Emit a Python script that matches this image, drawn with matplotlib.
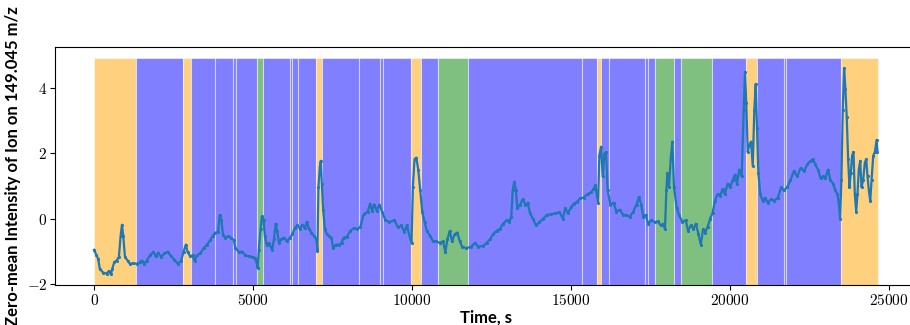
import matplotlib

matplotlib.use("Agg")
import matplotlib.pyplot as plt
from matplotlib.ticker import FuncFormatter

# segment boundaries (s) and their class colour
seg_start = [0, 1305, 2792, 3034, 3814, 4372, 4466, 5130, 5320, 6152, 6237, 6406,
             6995, 7175, 8344, 8998, 9103, 9978, 10282, 10819, 11779, 15351, 15825,
             15951, 16192, 17330, 17415, 17636, 18246, 18458, 19428, 20512, 20860,
             21703, 21776, 23505]
seg_end = [1305, 2792, 3034, 3814, 4372, 4466, 5130, 5320, 6152, 6237, 6406, 6995,
           7175, 8344, 8998, 9103, 9978, 10282, 10819, 11779, 15351, 15825, 15951,
           16192, 17330, 17415, 17636, 18246, 18458, 19428, 20512, 20860, 21703,
           21776, 23505, 24652]
seg_color = ["orange", "blue", "orange", "blue", "blue", "blue", "blue", "green",
             "blue", "blue", "blue", "blue", "orange", "blue", "blue", "blue", "blue",
             "orange", "blue", "green", "blue", "blue", "orange", "blue", "blue",
             "blue", "blue", "green", "blue", "green", "blue", "orange", "blue",
             "blue", "blue", "orange"]
band_low = -2.04
band_high = 4.91

# zero-mean intensity trace
time_s = [0, 73, 126, 180, 285, 390, 464, 527, 569, 632, 706, 780, 832, 875, 917,
          970, 1052, 1128, 1233, 1337, 1444, 1495, 1580, 1653, 1760, 1865, 1937,
          2023, 2107, 2212, 2317, 2423, 2528, 2633, 2740, 2813, 2886, 2939, 3025,
          3097, 3161, 3233, 3340, 3445, 3550, 3657, 3729, 3815, 3897, 3951, 4004,
          4055, 4130, 4213, 4308, 4393, 4446, 4551, 4656, 4762, 4867, 4972, 5047,
          5110, 5142, 5183, 5237, 5278, 5332, 5373, 5427, 5499, 5604, 5657, 5711,
          5762, 5815, 5888, 5973, 6059, 6163, 6236, 6312, 6394, 6479, 6553, 6627,
          6690, 6764, 6836, 6922, 6994, 7026, 7058, 7102, 7133, 7165, 7206, 7260,
          7323, 7396, 7468, 7522, 7607, 7712, 7784, 7848, 7955, 8059, 8164, 8270,
          8375, 8480, 8606, 8682, 8745, 8818, 8891, 8976, 9061, 9166, 9292, 9450,
          9555, 9662, 9766, 9839, 9924, 9987, 10029, 10082, 10136, 10199, 10262,
          10325, 10398, 10471, 10578, 10661, 10768, 10872, 10977, 11053, 11116,
          11188, 11261, 11346, 11431, 11504, 11577, 11716, 11874, 11979, 12083,
          12241, 12348, 12453, 12557, 12664, 12769, 12873, 12981, 13063, 13126,
          13170, 13221, 13274, 13315, 13401, 13486, 13559, 13644, 13717, 13802,
          13906, 14011, 14137, 14245, 14371, 14507, 14643, 14750, 14823, 14908,
          15003, 15085, 15192, 15297, 15401, 15528, 15635, 15717, 15771, 15825,
          15856, 15898, 15951, 16003, 16055, 16109, 16160, 16245, 16350, 16435,
          16540, 16647, 16751, 16856, 16963, 17067, 17140, 17215, 17279, 17352,
          17437, 17531, 17636, 17741, 17826, 17911, 17962, 18006, 18037, 18088,
          18142, 18195, 18247, 18331, 18404, 18510, 18616, 18688, 18774, 18859,
          18932, 19017, 19090, 19163, 19226, 19301, 19384, 19459, 19532, 19617,
          19700, 19775, 19848, 19933, 20015, 20091, 20164, 20228, 20300, 20376,
          20439, 20480, 20521, 20566, 20616, 20670, 20724, 20774, 20818, 20860,
          20901, 20964, 21039, 21112, 21197, 21302, 21406, 21513, 21618, 21703,
          21808, 21912, 22019, 22124, 22228, 22335, 22440, 22544, 22619, 22692,
          22777, 22860, 22935, 23008, 23093, 23166, 23252, 23325, 23388, 23430,
          23473, 23514, 23555, 23600, 23641, 23682, 23726, 23767, 23808, 23852,
          23894, 23936, 23979, 24020, 24062, 24106, 24147, 24200, 24251, 24295,
          24336, 24378, 24422, 24463, 24516, 24567, 24621, 24650]
intensity = [-0.96, -1.13, -1.23, -1.55, -1.66, -1.69, -1.61, -1.71, -1.55, -1.34,
             -1.29, -1.18, -0.54, -0.19, -0.54, -1.18, -1.29, -1.39, -1.37, -1.39,
             -1.34, -1.29, -1.39, -1.29, -1.13, -1.02, -1.16, -1.05, -1.18, -1.07,
             -1.02, -1.16, -1.26, -1.39, -1.29, -1.02, -0.80, -1.02, -1.16, -1.13,
             -1.29, -1.13, -1.07, -0.91, -0.80, -0.66, -0.54, -0.43, -0.41, 0.11,
             -0.05, -0.51, -0.59, -0.54, -0.59, -0.66, -0.91, -1.02, -1.02, -1.13,
             -1.16, -1.18, -1.20, -1.34, -1.52, -0.96, -0.32, 0.07, -0.05, -0.54,
             -0.80, -0.75, -0.96, -0.64, -0.16, -0.38, -0.75, -0.64, -0.59, -0.70,
             -0.59, -0.48, -0.30, -0.21, -0.32, -0.19, -0.30, -0.11, -0.32, -0.43,
             -0.54, -0.64, -0.99, 0.96, 1.61, 1.77, 1.07, 0.27, -0.32, -0.48, -0.54,
             -0.59, -0.91, -0.80, -0.80, -0.75, -0.59, -0.56, -0.38, -0.30, -0.32,
             -0.27, 0.13, 0.21, 0.45, 0.24, 0.43, 0.24, 0.43, 0.21, -0.05, -0.11,
             -0.05, -0.27, -0.21, -0.41, -0.21, -0.54, -0.75, 0.96, 1.82, 1.87, 1.50,
             0.86, 0.21, -0.11, -0.38, -0.54, -0.70, -0.70, -0.75, -0.70, -1.02,
             -0.64, -0.38, -0.70, -0.48, -0.43, -0.70, -0.86, -0.91, -0.86, -0.75,
             -0.86, -0.84, -0.75, -0.64, -0.48, -0.38, -0.32, -0.16, -0.05, -0.11,
             0.05, 0.86, 1.13, 0.86, 0.32, 0.43, 0.59, 0.43, 0.48, 0.16, 0.00, -0.21,
             -0.11, 0.00, 0.11, 0.13, 0.16, 0.19, 0.00, 0.32, 0.16, 0.34, 0.45, 0.51,
             0.62, 0.64, 0.75, 0.80, 0.91, 1.02, 0.70, 0.48, 1.93, 2.20, 1.29, 1.98,
             2.04, 0.86, 0.43, 0.48, 0.21, 0.27, 0.11, 0.11, 0.05, 0.21, 0.43, 0.66,
             0.43, 0.05, 0.11, -0.16, -0.05, -0.11, -0.09, -0.21, -0.16, -0.32, 0.86,
             1.39, 0.96, 1.82, 2.36, 0.96, 0.32, 0.11, -0.11, -0.05, -0.38, -0.21,
             -0.32, -0.16, -0.48, -0.80, -0.32, -0.43, -0.27, 0.00, 0.16, 0.54, 0.75,
             0.70, 0.91, 0.75, 1.07, 0.96, 1.18, 1.34, 1.07, 1.50, 1.29, 3.32, 4.50,
             3.54, 2.04, 2.25, 2.36, 1.61, 3.32, 4.13, 2.79, 1.39, 0.75, 0.54, 0.64,
             0.48, 0.59, 0.54, 0.64, 0.96, 0.86, 0.96, 1.18, 1.45, 1.29, 1.55, 1.45,
             1.66, 1.77, 1.82, 1.66, 1.50, 1.23, 1.29, 1.23, 1.50, 1.18, 1.07, 0.86,
             0.75, 0.48, 0.00, 1.18, 3.32, 4.61, 3.96, 3.11, 1.82, 0.96, 1.39, 1.93,
             2.04, 0.75, 0.21, 0.75, 1.50, 1.77, 0.96, 1.18, 1.71, 1.82, 1.29, 0.86,
             0.54, 1.18, 1.93, 2.04, 2.41, 2.04]

plt.rcParams["mathtext.fontset"] = "cm"

fig = plt.figure(figsize=(9.1, 3.25), dpi=100)
ax = fig.add_axes([0.0604, 0.123, 0.947, 0.732])

widths = [e - s for s, e in zip(seg_start, seg_end)]
ax.bar(seg_start, band_high - band_low, width=widths, bottom=band_low, align="edge",
       color=seg_color, alpha=0.5, edgecolor="white", linewidth=0.8)
ax.plot(time_s, intensity, ".-", color="#1f77b4", markersize=2.5, linewidth=1.6)

ax.margins(x=0.05, y=0.05)
ax.spines["right"].set_visible(False)
ax.set_xticks([0, 5000, 10000, 15000, 20000, 25000])
ax.set_yticks([-2, 0, 2, 4])
fmt = FuncFormatter(lambda v, _: f"${v:.0f}$")
ax.xaxis.set_major_formatter(fmt)
ax.yaxis.set_major_formatter(fmt)
ax.tick_params(labelsize=11, pad=2)

ax.set_xlabel("Time, s", family="Lato", weight="bold", size=12, labelpad=1)
ax.set_ylabel("Zero-mean Intensity of Ion on 149.045 m/z", family="Lato",
              weight="bold", size=12, labelpad=4)

fig.savefig("out.png", dpi=100)
